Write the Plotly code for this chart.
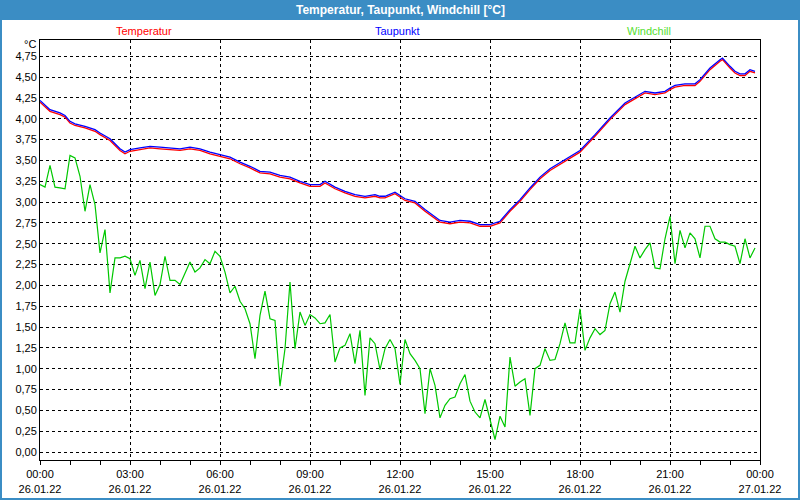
import pandas as pd
import plotly.graph_objects as go

# ---------------- data ----------------
day_start = pd.Timestamp("2022-01-26 00:00")
day_end = pd.Timestamp("2022-01-27 00:00")

# Windchill: 10-minute values 00:00 .. 23:50
windchill = [
    3.21, 3.18, 3.44, 3.18, 3.17, 3.16, 3.56, 3.53, 3.31, 2.89,
    3.21, 2.97, 2.39, 2.67, 1.91, 2.33, 2.33, 2.35, 2.32, 2.12,
    2.30, 1.96, 2.28, 1.88, 2.01, 2.35, 2.06, 2.06, 2.01, 2.14,
    2.28, 2.16, 2.21, 2.31, 2.26, 2.41, 2.35, 2.16, 1.91, 1.99,
    1.81, 1.72, 1.54, 1.12, 1.64, 1.93, 1.60, 1.58, 0.79, 1.24,
    2.04, 1.24, 1.68, 1.52, 1.65, 1.61, 1.54, 1.55, 1.65, 1.08,
    1.25, 1.28, 1.42, 1.06, 1.46, 0.68, 1.37, 1.30, 0.99, 1.24,
    1.35, 1.24, 0.81, 1.35, 1.18, 1.10, 1.00, 0.46, 1.00, 0.80,
    0.41, 0.56, 0.64, 0.66, 0.82, 0.93, 0.61, 0.48, 0.41, 0.63,
    0.40, 0.15, 0.43, 0.30, 1.14, 0.79, 0.84, 0.88, 0.44, 1.00,
    1.04, 1.24, 1.10, 1.11, 1.30, 1.55, 1.31, 1.31, 1.72, 1.22,
    1.37, 1.48, 1.41, 1.46, 1.78, 1.92, 1.68, 2.05, 2.26, 2.47,
    2.33, 2.43, 2.51, 2.21, 2.20, 2.56, 2.83, 2.26, 2.66, 2.45,
    2.63, 2.56, 2.33, 2.71, 2.71, 2.56, 2.52, 2.52, 2.49, 2.47,
    2.26, 2.56, 2.33, 2.45,
]
windchill_times = pd.date_range(day_start, periods=len(windchill), freq="10min")

# Temperatur / Taupunkt: minutes after midnight and values
temp_minutes = [
    0, 20, 40, 50, 60, 70, 90, 110, 120, 140, 150, 160, 170, 180, 200, 220,
    240, 260, 280, 300, 320, 340, 360, 380, 400, 420, 440, 460, 480, 500,
    520, 540, 560, 570, 590, 610, 630, 650, 670, 680, 690, 710, 730, 750,
    770, 800, 820, 840, 860, 880, 900, 920, 940, 960, 980, 1000, 1020, 1050,
    1080, 1110, 1140, 1170, 1200, 1210, 1230, 1250, 1260, 1270, 1290, 1310,
    1320, 1340, 1360, 1365, 1380, 1390, 1400, 1410, 1420, 1430,
]
temperatur = [
    4.20, 4.09, 4.05, 4.02, 3.95, 3.92, 3.89, 3.85, 3.81, 3.74, 3.68, 3.62, 3.58, 3.61, 3.63, 3.65,
    3.64, 3.63, 3.62, 3.64, 3.62, 3.58, 3.55, 3.52, 3.46, 3.41, 3.35, 3.34, 3.30, 3.28,
    3.23, 3.19, 3.19, 3.23, 3.16, 3.11, 3.07, 3.05, 3.07, 3.05, 3.05, 3.10, 3.02, 2.99,
    2.89, 2.76, 2.74, 2.76, 2.75, 2.71, 2.71, 2.75, 2.89, 3.01, 3.15, 3.28, 3.38, 3.49,
    3.60, 3.79, 3.99, 4.17, 4.27, 4.31, 4.29, 4.31, 4.35, 4.38, 4.40, 4.40,
    4.45, 4.59, 4.69, 4.71, 4.61, 4.55, 4.52, 4.52, 4.57, 4.55,
]
taupunkt = [
    4.22, 4.11, 4.07, 4.04, 3.97, 3.94, 3.91, 3.87, 3.83, 3.76, 3.70, 3.64, 3.60, 3.63, 3.65, 3.67,
    3.66, 3.65, 3.64, 3.66, 3.64, 3.60, 3.57, 3.54, 3.48, 3.43, 3.37, 3.36, 3.32, 3.30,
    3.25, 3.21, 3.21, 3.25, 3.18, 3.13, 3.09, 3.07, 3.09, 3.07, 3.07, 3.12, 3.04, 3.01,
    2.91, 2.78, 2.76, 2.78, 2.77, 2.73, 2.73, 2.77, 2.91, 3.03, 3.17, 3.30, 3.40, 3.51,
    3.62, 3.81, 4.01, 4.19, 4.29, 4.33, 4.31, 4.33, 4.37, 4.40, 4.42, 4.42,
    4.47, 4.61, 4.71, 4.73, 4.63, 4.57, 4.54, 4.54, 4.59, 4.57,
]
temp_times = [day_start + pd.Timedelta(minutes=m) for m in temp_minutes]

series_names = ["Temperatur", "Taupunkt", "Windchill"]
title_text = "Temperatur, Taupunkt, Windchill [°C]"
unit_text = "°C"

# ---------------- styling ----------------
FONT = "Liberation Sans Narrow, Liberation Sans, Arial, sans-serif"
BAR = "#3b8dc4"
W, H = 800, 500
ML, MR, MT, MB = 40, 40, 40, 40
PW, PH = W - ML - MR, H - MT - MB

def px_x(px):
    return (px - ML) / PW

def px_y(py):
    return 1 - (py - MT) / PH

fig = go.Figure()
fig.add_trace(go.Scatter(x=windchill_times, y=windchill, mode="lines",
                         name=series_names[2], line=dict(color="#00c800", width=1.2)))
fig.add_trace(go.Scatter(x=temp_times, y=temperatur, mode="lines",
                         name=series_names[0], line=dict(color="#ff0000", width=1.3)))
fig.add_trace(go.Scatter(x=temp_times, y=taupunkt, mode="lines",
                         name=series_names[1], line=dict(color="#0000ff", width=1.3)))

grid = dict(showgrid=True, gridcolor="black", gridwidth=1, griddash="3px,3px")

fig.update_layout(
    width=W, height=H,
    margin=dict(l=ML, r=MR, t=MT, b=MB),
    paper_bgcolor="white", plot_bgcolor="white",
    separators=",.",
    showlegend=False,
    font=dict(family=FONT, size=11, color="black"),
    xaxis=dict(
        type="date", range=[day_start, day_end],
        tick0=day_start, dtick=3 * 3600 * 1000,
        tickformat="%H:%M<br>%d.%m.%y",
        showline=True, linecolor="black", linewidth=1, mirror=True,
        ticks="outside", ticklen=4, tickcolor="black",
        minor=dict(dtick=3600 * 1000, ticks="outside", ticklen=4,
                   tickcolor="black", showgrid=False),
        zeroline=False, automargin=False,
        tickfont=dict(family=FONT, size=11, color="black"),
        **grid,
    ),
    yaxis=dict(
        range=[-0.096, 4.946], tick0=0, dtick=0.25, tickformat=".2f",
        showline=True, linecolor="black", linewidth=1, mirror=True,
        ticks="", zeroline=False, automargin=False,
        tickfont=dict(family=FONT, size=11, color="black"),
        **grid,
    ),
    shapes=[
        dict(type="rect", xref="paper", yref="paper", layer="above",
             x0=px_x(-5), x1=px_x(W + 5), y0=px_y(20), y1=px_y(-5),
             fillcolor=BAR, line=dict(width=0)),
        dict(type="rect", xref="paper", yref="paper", layer="above",
             x0=px_x(0), x1=px_x(W), y0=px_y(H), y1=px_y(0),
             fillcolor="rgba(0,0,0,0)", line=dict(color=BAR, width=4)),
    ],
    annotations=[
        dict(text=title_text, xref="paper", yref="paper", x=px_x(W / 2), y=px_y(10),
             xanchor="center", yanchor="middle", showarrow=False,
             font=dict(family=FONT, size=12, color="white", weight="bold")),
        dict(text=series_names[0], xref="paper", yref="paper", x=px_x(144), y=px_y(31),
             xanchor="center", yanchor="middle", showarrow=False,
             font=dict(family=FONT, size=11, color="#ff0000")),
        dict(text=series_names[1], xref="paper", yref="paper", x=px_x(397), y=px_y(31),
             xanchor="center", yanchor="middle", showarrow=False,
             font=dict(family=FONT, size=11, color="#0000ff")),
        dict(text=series_names[2], xref="paper", yref="paper", x=px_x(649), y=px_y(31),
             xanchor="center", yanchor="middle", showarrow=False,
             font=dict(family=FONT, size=11, color="#55e030")),
        dict(text=unit_text, xref="paper", yref="paper", x=px_x(38), y=px_y(44),
             xanchor="right", yanchor="middle", showarrow=False,
             font=dict(family=FONT, size=11, color="black")),
    ],
)

fig.write_html(
    "out.html",
    config={"displayModeBar": False},
    post_script="document.body.style.margin='0';document.body.style.overflow='hidden';",
)
